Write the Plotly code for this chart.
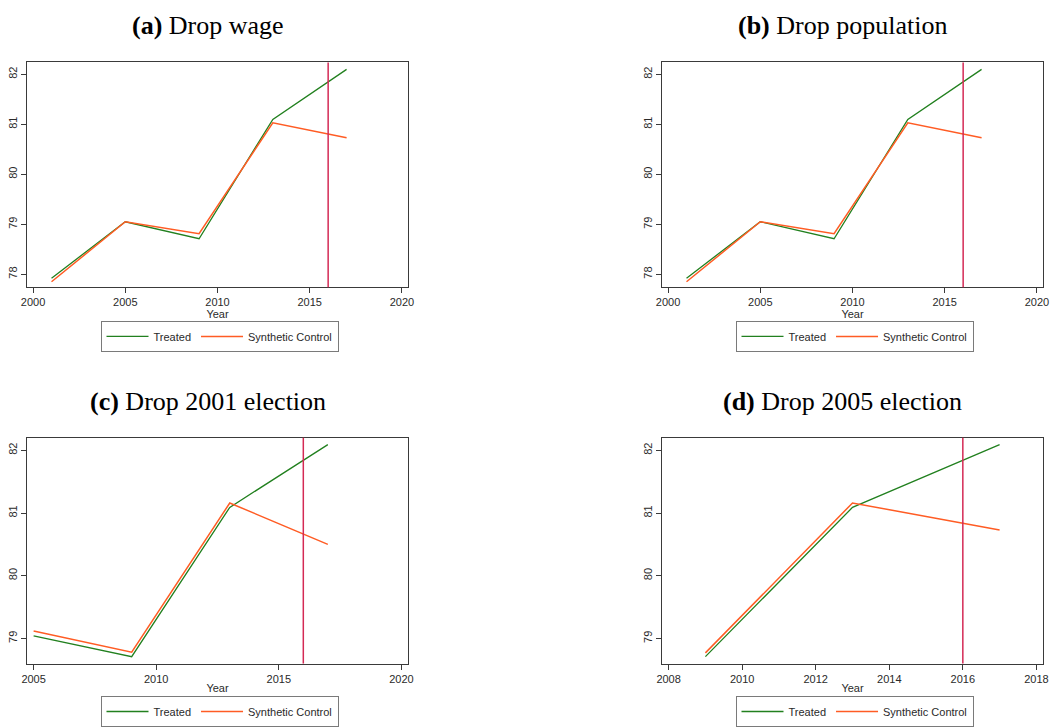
import plotly.graph_objects as go

# ---------------- data ----------------
years_ab = [2001, 2005, 2009, 2013, 2017]
treated_a = [77.92, 79.05, 78.71, 81.10, 82.10]
synth_a = [77.85, 79.05, 78.81, 81.03, 80.73]
treated_b = [77.92, 79.05, 78.71, 81.10, 82.10]
synth_b = [77.85, 79.05, 78.81, 81.03, 80.73]

years_c = [2005, 2009, 2013, 2017]
treated_c = [79.04, 78.71, 81.09, 82.09]
synth_c = [79.12, 78.78, 81.16, 80.50]

years_d = [2009, 2013, 2017]
treated_d = [78.71, 81.09, 82.09]
synth_d = [78.77, 81.16, 80.73]

treatment_year = 2016
titles = ["<b>(a)</b> Drop wage", "<b>(b)</b> Drop population",
          "<b>(c)</b> Drop 2001 election", "<b>(d)</b> Drop 2005 election"]
series_names = ["Treated", "Synthetic Control"]

# ---------------- style ----------------
W, H = 1054, 727
GREEN = "#22801f"
ORANGE = "#ff5c24"
VLINE = "#d42a55"
FRAME = "#3a3a3a"
TICKFONT = dict(family="Liberation Sans, Arial", size=11, color="#2a2a2a")
LEGFONT = dict(family="Liberation Sans, Arial", size=11, color="#2a2a2a")


def px_x(p):
    return p / W


def px_y(p):
    return 1 - p / H


panels = [
    dict(x=(27, 408), y=(63, 290), xs=years_ab, t=treated_a, s=synth_a,
         xr=[1999.67, 2020.33], yr=[77.74, 82.24], xt=[2000, 2005, 2010, 2015, 2020],
         yt=[78, 79, 80, 81, 82], leg_y=324),
    dict(x=(662, 1043), y=(63, 290), xs=years_ab, t=treated_b, s=synth_b,
         xr=[1999.67, 2020.33], yr=[77.74, 82.24], xt=[2000, 2005, 2010, 2015, 2020],
         yt=[78, 79, 80, 81, 82], leg_y=324),
    dict(x=(27, 408), y=(442, 670), xs=years_c, t=treated_c, s=synth_c,
         xr=[2004.73, 2020.27], yr=[78.6, 82.2], xt=[2005, 2010, 2015, 2020],
         yt=[79, 80, 81, 82], leg_y=703),
    dict(x=(662, 1043), y=(442, 670), xs=years_d, t=treated_d, s=synth_d,
         xr=[2007.82, 2018.18], yr=[78.6, 82.2], xt=[2008, 2010, 2012, 2014, 2016, 2018],
         yt=[79, 80, 81, 82], leg_y=703),
]

fig = go.Figure()
layout = dict(width=W, height=H, margin=dict(l=0, r=0, t=0, b=0, pad=0),
              paper_bgcolor="white", plot_bgcolor="white", showlegend=True,
              shapes=[], annotations=[])

for i, p in enumerate(panels):
    n = "" if i == 0 else str(i + 1)
    xa, ya = "x" + n, "y" + n
    leg = "legend" + n
    fig.add_trace(go.Scatter(x=p["xs"], y=p["t"], mode="lines", name=series_names[0],
                             line=dict(color=GREEN, width=1.3), xaxis=xa, yaxis=ya,
                             legend=leg))
    fig.add_trace(go.Scatter(x=p["xs"], y=p["s"], mode="lines", name=series_names[1],
                             line=dict(color=ORANGE, width=1.5), xaxis=xa, yaxis=ya,
                             legend=leg))
    common = dict(showline=True, linecolor=FRAME, linewidth=1, mirror=True,
                  showgrid=False, zeroline=False, ticks="outside", ticklen=5,
                  tickcolor=FRAME, tickfont=TICKFONT, automargin=False)
    layout["xaxis" + n] = dict(domain=[px_x(p["x"][0]), px_x(p["x"][1])],
                               range=p["xr"], tickvals=p["xt"], anchor=ya,
                               title=dict(text="Year", font=TICKFONT, standoff=0),
                               **common)
    layout["yaxis" + n] = dict(domain=[px_y(p["y"][1]), px_y(p["y"][0])],
                               range=p["yr"], tickvals=p["yt"], anchor=xa,
                               tickangle=-90, **common)
    layout["shapes"].append(dict(type="line", xref=xa, yref=ya + " domain",
                                 x0=treatment_year, x1=treatment_year, y0=0, y1=1,
                                 line=dict(color=VLINE, width=1.5)))
    cx = (p["x"][0] + p["x"][1]) / 2
    layout["annotations"].append(dict(text=titles[i], xref="paper", yref="paper",
                                      x=px_x(cx - 10), y=px_y(p["y"][0] - 37),
                                      xanchor="center", yanchor="middle", showarrow=False,
                                      font=dict(family="Liberation Serif, Times New Roman",
                                                size=26, color="black")))
    layout[leg] = dict(orientation="h", x=px_x(cx + 2), y=px_y(p["leg_y"]),
                       xanchor="center", yanchor="top", bordercolor="#7a7a7a",
                       borderwidth=1, bgcolor="white", itemwidth=42,
                       font=LEGFONT, itemclick=False)

fig.update_layout(**layout)
fig.write_html("out.html", config={"displayModeBar": False},
               post_script="document.body.style.margin='0';")
